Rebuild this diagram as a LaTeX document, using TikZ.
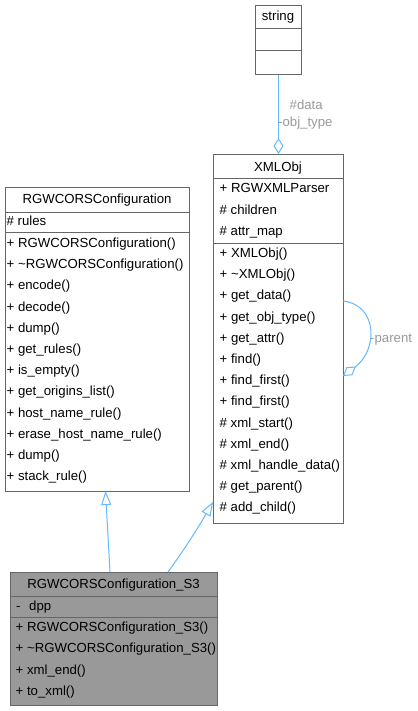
\documentclass[tikz,border=0pt]{standalone}
\usepackage{fontspec}
\setmainfont{Liberation Sans}
\usetikzlibrary{arrows.meta}
\definecolor{edgeblue}{HTML}{63B8FF}
\definecolor{boxgray}{HTML}{666666}
\definecolor{labgray}{HTML}{9A9A9A}
\definecolor{fillgray}{HTML}{999999}
\begin{document}
\begin{tikzpicture}[x=1pt,y=-1pt,
  font=\fontsize{13.2}{14}\selectfont,
  umlbox/.style={draw=boxgray, line width=1pt, anchor=north west, inner sep=0pt},
  sepline/.style={draw=boxgray, line width=1pt},
  txt/.style={anchor=west, inner sep=0pt, text height=9.5pt, text depth=2.5pt},
  ttl/.style={anchor=center, inner sep=0pt, text height=9.5pt, text depth=2.5pt},
  lbl/.style={anchor=west, inner sep=0pt, text=labgray, text height=9.5pt, text depth=2.5pt},
  edge/.style={draw=edgeblue, line width=1pt},
  inherit/.style={edge, -{Triangle[open, length=14pt, width=10pt]}},
  aggr/.style={edge, -{Diamond[open, length=16pt, width=10pt]}}]
\useasboundingbox (0,0) rectangle (417,711);

% ---- string ----
\node[umlbox, minimum width=46pt, minimum height=69pt] (string) at (255,5) {};
\draw[sepline] (255,29) -- (301,29);
\draw[sepline] (255,51) -- (301,51);
\node[ttl] (stringT) at (278,17) {string};

% ---- XMLObj ----
\node[umlbox, minimum width=130pt, minimum height=369pt] (xmlobj) at (213,154) {};
\draw[sepline] (213,179) -- (343,179);
\draw[sepline] (213,243) -- (343,243);
\node[ttl] (xmlT) at (278,168) {XMLObj};
\node[txt] (xa1) at (219.5,189.5) {+ RGWXMLParser};
\node[txt] (xa2) at (219.5,211) {\# children};
\node[txt] (xa3) at (219.5,232) {\# attr\_map};
\foreach \t [count=\i from 0] in {+ XMLObj(), + \textasciitilde XMLObj(), + get\_data(), + get\_obj\_type(), + get\_attr(), + find(), + find\_first(), + find\_first(), \# xml\_start(), \# xml\_end(), \# xml\_handle\_data(), \# get\_parent(), \# add\_child()}
  \node[txt] (xm\i) at (219.5,254+21.2*\i) {\t};

% ---- RGWCORSConfiguration ----
\node[umlbox, minimum width=184pt, minimum height=304pt] (rgw) at (5,187) {};
\draw[sepline] (5,213) -- (189,213);
\draw[sepline] (5,232) -- (189,232);
\node[ttl] (rgwT) at (97,200) {RGWCORSConfiguration};
\node[txt] (ra1) at (6.5,222) {\# rules};
\foreach \t [count=\i from 0] in {+ RGWCORSConfiguration(), + \textasciitilde RGWCORSConfiguration(), + encode(), + decode(), + dump(), + get\_rules(), + is\_empty(), + get\_origins\_list(), + host\_name\_rule(), + erase\_host\_name\_rule(), + dump(), + stack\_rule()}
  \node[txt] (rm\i) at (6.5,244+21.2*\i) {\t};

% ---- RGWCORSConfiguration_S3 ----
\node[umlbox, fill=fillgray, minimum width=207pt, minimum height=133pt] (s3) at (10,572) {};
\draw[sepline] (10,596) -- (217,596);
\draw[sepline] (10,617) -- (217,617);
\node[ttl] (s3T) at (113.5,585) {RGWCORSConfiguration\_S3};
\node[txt] (sa1) at (16,607) {\makebox[13pt][l]{-}dpp};
\foreach \t [count=\i from 0] in {+ RGWCORSConfiguration\_S3(), + \textasciitilde RGWCORSConfiguration\_S3(), + xml\_end(), + to\_xml()}
  \node[txt] (sm\i) at (15.5,628+21.3*\i) {\t};

% ---- connectors ----
\draw[aggr] (string.south) -- (xmlobj.north);
\node[lbl] (lData) at (289.5,106) {\#data};
\node[lbl] (lObj) at (278,123) {-obj\_type};

\coordinate (loopA) at (343,301);
\coordinate (loopB) at (343,376);
\draw[aggr] (loopA) .. controls (378,305) and (378,350) .. (loopB);
\node[lbl] (lParent) at (370,339) {-parent};

\coordinate (s3a) at (110,572);
\coordinate (rgwB) at (105.5,491);
\draw[inherit] (s3a) -- (rgwB);

\coordinate (s3b) at (168,572);
\coordinate (xmlL) at (213,502);
\draw[inherit] (s3b) .. controls (184,550) and (198,528) .. (xmlL);
\end{tikzpicture}
\end{document}
